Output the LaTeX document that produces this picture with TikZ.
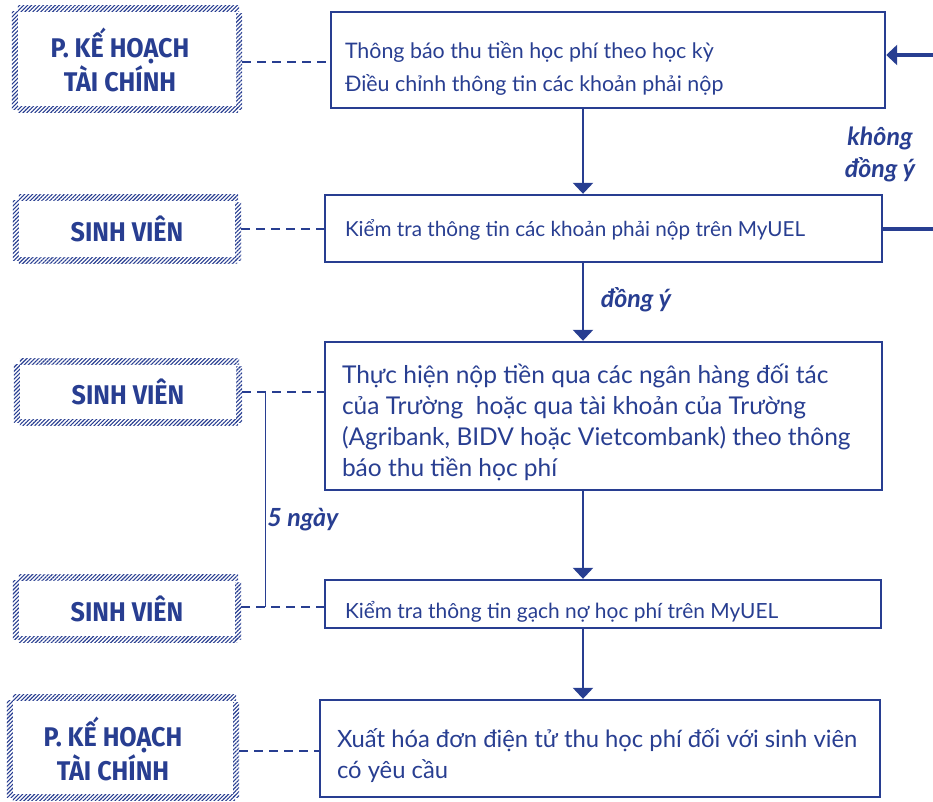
\documentclass[tikz,border=0pt]{standalone}
\usepackage{fontspec}
\setmainfont{Lato}
\newfontfamily\headfont{Fira Sans}[FakeStretch=0.93]
\usetikzlibrary{arrows.meta,patterns.meta,calc}
\definecolor{uelblue}{RGB}{40,62,145}
\tikzset{
  hatch/.style={pattern={Lines[angle=45,distance=2.8pt,line width=1.1pt]}, pattern color=uelblue},
  lbox/.style={inner sep=0pt, text=uelblue, align=center,
    font=\headfont\bfseries\fontsize{27}{31}\selectfont},
  rbox/.style={draw=uelblue, line width=2.4pt, inner sep=0pt},
  rtext/.style={text=uelblue, align=left, anchor=west, inner sep=0pt},
  flow/.style={draw=uelblue, line width=2.5pt, -{Triangle[width=20pt,length=11pt]}},
  back/.style={draw=uelblue, line width=4pt, -{Triangle[width=20pt,length=11pt]}},
  link/.style={draw=uelblue, line width=2pt, dash pattern=on 9pt off 6pt},
  bracket/.style={draw=uelblue, double=white, double distance=1pt, line width=0.7pt},
  lbl/.style={text=uelblue, font=\bfseries\itshape\fontsize{25}{32}\selectfont, align=center, inner sep=0pt}
}
\newcommand\hatchframe[1]{%
  \fill[hatch] ([xshift=6pt]#1.north west) rectangle ([xshift=-3pt,yshift=-6pt]#1.north east);
  \fill[hatch] ([xshift=-6pt,yshift=-8pt]#1.north east) rectangle ([yshift=3pt]#1.south east);
  \fill[hatch] ([xshift=6pt,yshift=6pt]#1.south west) rectangle ([xshift=-4pt]#1.south east);
  \fill[hatch] ([yshift=-6pt]#1.north west) rectangle ([xshift=6pt,yshift=3pt]#1.south west);
}
\begin{document}
\begin{tikzpicture}[x=1pt,y=-1pt]
\useasboundingbox (0,0) rectangle (933,801);
\clip (0,0) rectangle (933,801);
% left boxes
\node[lbox, minimum width=230pt, minimum height=106pt] (L1) at (127,59) {};
\node[lbox] (L1t) at (120,60) {P. KẾ HOẠCH\\TÀI CHÍNH};
\node[lbox, minimum width=228pt, minimum height=68pt] (L2) at (127,229) {SINH VIÊN};
\node[lbox, minimum width=228pt, minimum height=66pt] (L3) at (128,392) {SINH VIÊN};
\node[lbox, minimum width=228pt, minimum height=67pt] (L4) at (127,608.5) {SINH VIÊN};
\node[lbox, minimum width=232pt, minimum height=105pt] (L5) at (123,747.5) {};
\node[lbox] (L5t) at (113,749) {P. KẾ HOẠCH\\TÀI CHÍNH};
\hatchframe{L1}\hatchframe{L2}\hatchframe{L3}\hatchframe{L4}\hatchframe{L5}
% right boxes
\node[rbox, minimum width=554pt, minimum height=96pt] (R1) at (608,60) {};
\node[rtext, font=\fontsize{21.4}{33}\selectfont] (R1t) at ([xshift=15pt,yshift=-8pt]R1.west)
  {Thông báo thu tiền học phí theo học kỳ\\Điều chỉnh thông tin các khoản phải nộp};
\node[rbox, minimum width=557pt, minimum height=67pt] (R2) at (603.5,228.5) {};
\node[rtext, font=\fontsize{20.7}{31}\selectfont] (R2t) at ([xshift=21pt,yshift=-1.5pt]R2.west)
  {Kiểm tra thông tin các khoản phải nộp trên MyUEL};
\node[rbox, minimum width=557pt, minimum height=148pt] (R3) at (603.5,416) {};
\node[rtext, font=\fontsize{24.5}{31.3}\selectfont] (R3t) at ([xshift=18pt,yshift=-6.5pt]R3.west)
  {Thực hiện nộp tiền qua các ngân hàng đối tác\\của Trường\ \ hoặc qua tài khoản của Trường\\(Agribank, BIDV hoặc Vietcombank) theo thông\\báo thu tiền học phí};
\node[rbox, minimum width=556pt, minimum height=48pt] (R4) at (603,604) {};
\node[rtext, font=\fontsize{20.9}{31}\selectfont] (R4t) at ([xshift=21pt,yshift=-8pt]R4.west)
  {Kiểm tra thông tin gạch nợ học phí trên MyUEL};
\node[rbox, minimum width=560pt, minimum height=97pt] (R5) at (600,748.5) {};
\node[rtext, font=\fontsize{23.8}{31}\selectfont] (R5t) at ([xshift=18pt,yshift=-7.5pt]R5.west)
  {Xuất hóa đơn điện tử thu học phí đối với sinh viên\\có yêu cầu};
% main flow
\coordinate (A) at (583,0);
\draw[flow] (R1.south -| A) -- (R2.north -| A);
\draw[flow] (R2.south -| A) -- (R3.north -| A);
\draw[flow] (R3.south -| A) -- (R4.north -| A);
\draw[flow] (R4.south -| A) -- (R5.north -| A);
% loop back
\draw[back] (R2.east) -- ++(90,0) |- ([yshift=5pt]R1.east);
% dashed links
\draw[link] ([yshift=-3pt]L1.east) -- ([yshift=-3pt]L1.east -| R1.west);
\draw[link] (L2.east) -- (L2.east -| R2.west);
\draw[link] (L3.east) -- (L3.east -| R3.west);
\draw[link] ([yshift=1.5pt]L4.east) -- ([yshift=1.5pt]L4.east -| R4.west);
\draw[link] ([yshift=-3pt]L5.east) -- ([yshift=-3pt]L5.east -| R5.west);
% 5 ngay bracket
\coordinate (B) at (266,0);
\draw[bracket] (L3.east -| B) -- ([yshift=1.5pt]L4.east -| B);
% labels
\node[lbl] (k1) at (880,154) {không\\đồng ý};
\node[lbl] (k2) at (636,300) {đồng ý};
\node[lbl] (k3) at (303,520) {5 ngày};
\end{tikzpicture}
\end{document}
